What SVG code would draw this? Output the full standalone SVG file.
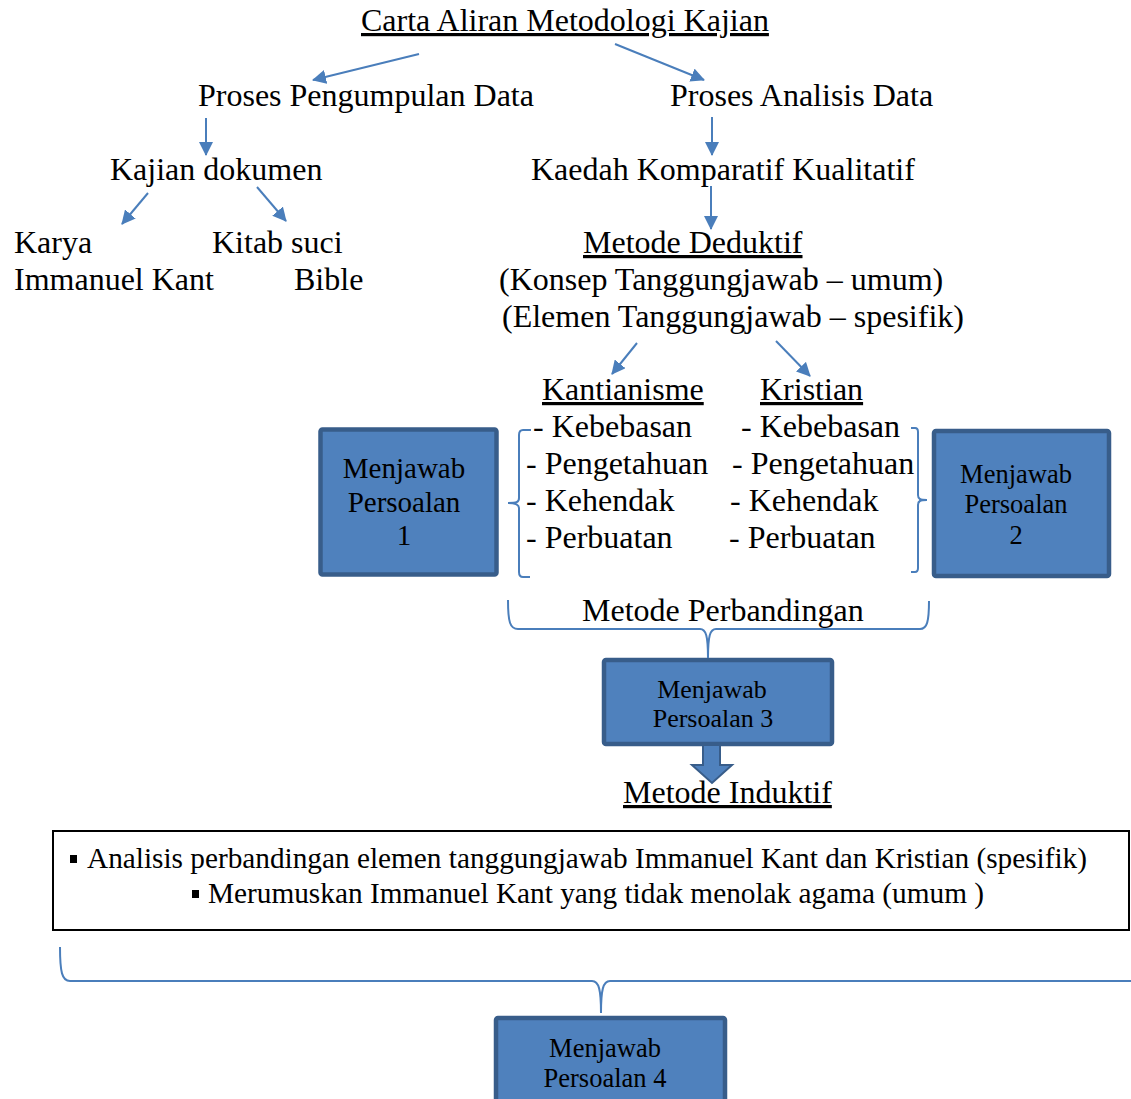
<svg xmlns="http://www.w3.org/2000/svg" width="1131" height="1099" viewBox="0 0 1131 1099">
<style>
.t{font-family:"Liberation Serif","Times New Roman",serif;font-size:32px;fill:#000}
.u{text-decoration:underline}
.bt{font-family:"Liberation Serif","Times New Roman",serif;fill:#000;text-anchor:middle}
.box{fill:#4F81BD;stroke:#385D8A;stroke-width:4.5}
.ln{stroke:#4A7EBB;stroke-width:2;fill:none;marker-end:url(#ah)}
.br{stroke:#4A7EBB;stroke-width:2;fill:none}
.tb{font-family:"Liberation Serif","Times New Roman",serif;font-size:29.3px;fill:#000}
</style>
<defs>
<marker id="ah" viewBox="0 0 14 14" refX="13" refY="7" markerWidth="14" markerHeight="14" markerUnits="userSpaceOnUse" orient="auto">
<path d="M0,0 L14,7 L0,14 z" fill="#4A7EBB"/>
</marker>
</defs>
<rect width="1131" height="1099" fill="#fff"/>

<g id="title"><text class="t u" x="361" y="31">Carta Aliran Metodologi Kajian</text></g>
<g id="pengumpulan"><text class="t" x="198" y="106">Proses Pengumpulan Data</text></g>
<g id="analisis"><text class="t" x="670" y="106">Proses Analisis Data</text></g>
<g id="kajian-dokumen"><text class="t" x="110" y="180">Kajian dokumen</text></g>
<g id="kaedah"><text class="t" x="531" y="180">Kaedah Komparatif Kualitatif</text></g>
<g id="karya"><text class="t" x="14" y="253">Karya</text><text class="t" x="14" y="290">Immanuel Kant</text></g>
<g id="kitab"><text class="t" x="212" y="253">Kitab suci</text><text class="t" x="294" y="290">Bible</text></g>
<g id="deduktif">
<text class="t u" x="583" y="253">Metode Deduktif</text>
<text class="t" x="499" y="290">(Konsep Tanggungjawab – umum)</text>
<text class="t" x="502" y="327">(Elemen Tanggungjawab – spesifik)</text>
</g>
<g id="kantianisme">
<text class="t u" x="542" y="400">Kantianisme</text>
<text class="t" x="533" y="437">- Kebebasan</text>
<text class="t" x="526" y="474">- Pengetahuan</text>
<text class="t" x="526" y="511">- Kehendak</text>
<text class="t" x="526" y="548">- Perbuatan</text>
</g>
<g id="kristian">
<text class="t u" x="760" y="400">Kristian</text>
<text class="t" x="741" y="437">- Kebebasan</text>
<text class="t" x="732" y="474">- Pengetahuan</text>
<text class="t" x="730" y="511">- Kehendak</text>
<text class="t" x="729" y="548">- Perbuatan</text>
</g>
<g id="persoalan1">
<rect class="box" x="320.5" y="429.5" width="176" height="145" rx="2"/>
<text class="bt" x="404" y="478" font-size="29">Menjawab</text>
<text class="bt" x="404" y="512" font-size="29">Persoalan</text>
<text class="bt" x="404" y="545" font-size="29">1</text>
</g>
<g id="persoalan2">
<rect class="box" x="934" y="431" width="175" height="145" rx="2"/>
<text class="bt" x="1016" y="483" font-size="26.5">Menjawab</text>
<text class="bt" x="1016" y="513" font-size="26.5">Persoalan</text>
<text class="bt" x="1016" y="544" font-size="26.5">2</text>
</g>
<g id="perbandingan"><text class="t" x="582" y="621">Metode Perbandingan</text></g>
<g id="persoalan3">
<rect class="box" x="604" y="660" width="228" height="84" rx="2"/>
<text class="bt" x="712" y="698" font-size="26">Menjawab</text>
<text class="bt" x="713" y="727" font-size="26">Persoalan 3</text>
</g>
<g id="induktif"><text class="t u" x="623" y="803">Metode Induktif</text></g>
<g id="ringkasan">
<rect x="53" y="831" width="1076" height="99" fill="#fff" stroke="#000" stroke-width="2"/>
<rect x="70" y="855" width="7" height="8" fill="#000"/>
<text class="tb" x="87" y="868" textLength="1000" lengthAdjust="spacingAndGlyphs">Analisis perbandingan elemen tanggungjawab Immanuel Kant dan Kristian (spesifik)</text>
<rect x="192" y="890" width="7" height="8" fill="#000"/>
<text class="tb" x="208" y="903" textLength="776" lengthAdjust="spacingAndGlyphs">Merumuskan Immanuel Kant yang tidak menolak agama (umum )</text>
</g>
<g id="persoalan4">
<rect class="box" x="496" y="1018" width="229" height="95" rx="2"/>
<text class="bt" x="605" y="1057" font-size="26.5">Menjawab</text>
<text class="bt" x="605" y="1087" font-size="26.5">Persoalan 4</text>
</g>

<g id="connectors">
<line class="ln" x1="419" y1="54" x2="313" y2="80"/>
<line class="ln" x1="615" y1="44" x2="704" y2="80"/>
<line class="ln" x1="206" y1="118" x2="206" y2="155"/>
<line class="ln" x1="712" y1="117" x2="712" y2="155"/>
<line class="ln" x1="148" y1="193" x2="122" y2="224"/>
<line class="ln" x1="257" y1="187" x2="286" y2="221"/>
<line class="ln" x1="711" y1="186" x2="711" y2="229"/>
<line class="ln" x1="637" y1="343" x2="612" y2="374"/>
<line class="ln" x1="776" y1="341" x2="810" y2="376"/>
<path class="br" d="M531,430 L523,430 C520,430 519,432 519,435 L519,498 C519,502 517,503 508,503 C517,503 519,505 519,508 L519,572 C519,575 520,577 523,577 L530,577"/>
<path class="br" d="M911,428 L915,428 C917,428 918,430 918,432 L918,495 C918,499 920,500 927,500 C920,500 918,501 918,505 L918,568 C918,571 917,572 915,572 L911,572"/>
<path class="br" d="M508,600 C508,622 510,629 518,629 L700,629 C706,629 708,636 708,658 C708,636 710,629 716,629 L920,629 C927,629 929,622 929,601"/>
<path class="br" d="M60,947 C60,972 62,981 70,981 L592,981 C599,981 601,990 601,1013 C601,990 603,981 610,981 L1135,981"/>
<polygon points="703,745 720,745 720,765 732,765 712,783 692,765 703,765" fill="#4F81BD" stroke="#385D8A" stroke-width="2"/>
</g>
</svg>
